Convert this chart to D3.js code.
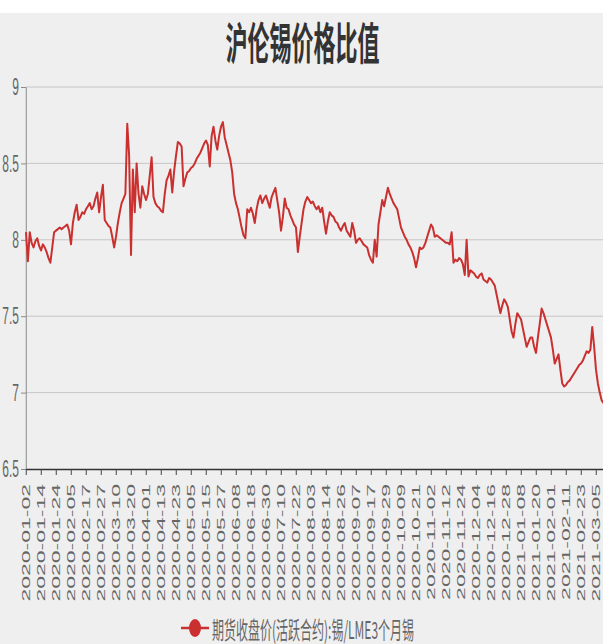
<!DOCTYPE html>
<html><head><meta charset="utf-8">
<script src="https://cdn.jsdelivr.net/npm/d3@7"></script>
<style>html,body{margin:0;padding:0;background:#fff;overflow:hidden}</style>
</head><body>
<svg id="c" width="603" height="644"></svg>
<script>
const title = "沪伦锡价格比值";
const seriesName = "期货收盘价(活跃合约):锡/LME3个月锡";
const yTicks = [6.5, 7, 7.5, 8, 8.5, 9];
const labelEvery = 8;
const tradingDays = [
  ["2020-01", [2,3,6,7,8,9,10,13,14,15,16,17,20,21,22,23,24,27,28,29,30,31]],
  ["2020-02", [3,4,5,6,7,10,11,12,13,14,17,18,19,20,21,24,25,26,27,28]],
  ["2020-03", [2,3,4,5,6,9,10,11,12,13,16,17,18,19,20,23,24,25,26,27,30,31]],
  ["2020-04", [1,2,3,6,7,8,9,10,13,14,15,16,17,20,21,22,23,24,27,28,29,30]],
  ["2020-05", [1,4,5,6,7,8,11,12,13,14,15,18,19,20,21,22,25,26,27,28,29]],
  ["2020-06", [1,2,3,4,5,8,9,10,11,12,15,16,17,18,19,22,23,24,25,26,29,30]],
  ["2020-07", [1,2,3,6,7,8,9,10,13,14,15,16,17,20,21,22,23,24,27,28,29,30,31]],
  ["2020-08", [3,4,5,6,7,11,12,13,14,17,18,19,20,21,24,25,26,27,28,31]],
  ["2020-09", [1,2,3,4,7,8,9,10,11,14,15,16,17,18,21,22,23,24,25,28,29,30]],
  ["2020-10", [1,2,5,6,7,8,9,12,13,14,15,16,19,20,21,22,23,26,27,28,29,30]],
  ["2020-11", [2,3,4,5,6,9,10,11,12,13,16,17,18,19,20,23,24,25,26,27,30]],
  ["2020-12", [1,2,3,4,7,8,9,10,11,14,15,16,17,18,21,22,23,24,25,28,29,30,31]],
  ["2021-01", [4,5,6,7,8,11,12,13,14,15,18,19,20,21,22,25,26,27,28,29]],
  ["2021-02", [1,2,3,4,5,8,9,10,11,12,15,16,17,18,19,22,23,24,25,26]],
  ["2021-03", [1,2,3,4,5,8,9,10,11]]
];
const ratio = [
  8.05,7.86,8.05,7.98,7.95,7.99,8.01,7.96,7.93,7.97,
  7.95,7.92,7.88,7.85,7.95,8.05,8.06,8.07,8.08,8.07,
  8.08,8.09,8.10,8.06,7.97,8.11,8.18,8.23,8.13,8.15,
  8.18,8.17,8.20,8.22,8.24,8.20,8.22,8.27,8.31,8.18,
  8.28,8.36,8.13,8.11,8.09,8.08,8.02,7.95,8.02,8.11,
  8.18,8.24,8.27,8.30,8.76,8.55,7.90,8.46,8.18,8.50,
  8.30,8.21,8.35,8.30,8.26,8.30,8.42,8.54,8.28,8.24,
  8.22,8.21,8.19,8.18,8.30,8.39,8.42,8.46,8.31,8.45,
  8.55,8.64,8.63,8.61,8.35,8.40,8.44,8.45,8.47,8.48,
  8.50,8.53,8.55,8.57,8.60,8.63,8.65,8.62,8.48,8.68,
  8.74,8.65,8.59,8.68,8.74,8.77,8.67,8.62,8.57,8.52,
  8.44,8.30,8.24,8.20,8.14,8.08,8.03,8.01,8.20,8.18,
  8.21,8.17,8.11,8.20,8.26,8.29,8.24,8.27,8.29,8.25,
  8.21,8.28,8.31,8.34,8.26,8.18,8.06,8.15,8.27,8.21,
  8.20,8.16,8.13,8.10,8.08,7.92,8.02,8.11,8.20,8.25,
  8.28,8.26,8.24,8.25,8.22,8.20,8.22,8.18,8.21,8.12,
  8.04,8.12,8.18,8.16,8.15,8.12,8.11,8.08,8.06,8.09,
  8.11,8.06,8.04,8.02,8.11,8.06,7.98,8.00,8.01,7.99,
  7.97,7.96,7.95,7.90,7.87,7.85,8.00,7.89,8.10,8.18,
  8.26,8.22,8.28,8.34,8.30,8.27,8.24,8.22,8.20,8.14,
  8.08,8.05,8.02,8.00,7.97,7.95,7.92,7.88,7.82,7.88,
  7.95,7.94,7.95,7.98,8.02,8.06,8.10,8.08,8.02,8.03,
  8.02,8.01,8.00,7.99,7.98,7.98,7.97,8.05,7.85,7.87,
  7.86,7.88,7.87,7.84,7.77,8.00,7.76,7.80,7.79,7.78,
  7.76,7.75,7.77,7.78,7.74,7.73,7.72,7.75,7.74,7.72,
  7.70,7.64,7.58,7.52,7.57,7.61,7.59,7.56,7.48,7.40,
  7.36,7.45,7.52,7.50,7.48,7.42,7.36,7.30,7.33,7.36,
  7.36,7.30,7.26,7.36,7.45,7.55,7.52,7.48,7.44,7.40,
  7.36,7.28,7.19,7.22,7.25,7.15,7.06,7.04,7.05,7.07,
  7.08,7.10,7.12,7.14,7.16,7.18,7.19,7.21,7.24,7.27,
  7.26,7.28,7.43,7.30,7.15,7.06,7.00,6.95,6.93
];

const dates = tradingDays.flatMap(([m, ds]) => ds.map(d => m + "-" + String(d).padStart(2, "0")));
const data = dates.map((d, i) => ({date: d, value: ratio[i]}));

// design space is horizontally compressed to 603px (matches the squeezed reference)
const DW = 1206, DH = 644;
const svg = d3.select("#c").attr("viewBox", `0 0 ${DW} ${DH}`).attr("preserveAspectRatio", "none");

svg.append("rect").attr("x", 0).attr("y", 13).attr("width", DW).attr("height", DH - 13).attr("fill", "#efefef");

const plotLeft = 52, plotTop = 87, plotBottom = 469;
const x = d3.scalePoint().domain(dates).range([plotLeft, plotLeft + 3.75 * (dates.length - 1)]);
const y = d3.scaleLinear().domain([6.5, 9]).range([plotBottom, plotTop]);
const plotRight = x.range()[1];

// grid lines
svg.append("g").selectAll("line").data(yTicks.filter(t => t !== 6.5)).join("line")
  .attr("x1", plotLeft).attr("x2", plotRight + 10).attr("y1", d => y(d)).attr("y2", d => y(d))
  .attr("stroke", "#c6c6c6").attr("stroke-width", 1).attr("vector-effect", "non-scaling-stroke");

// y axis
const gy = svg.append("g").attr("transform", `translate(${plotLeft},0)`)
  .call(d3.axisLeft(y).tickValues(yTicks).tickFormat(d3.format("~g")).tickSize(10).tickSizeOuter(0).tickPadding(4));
gy.selectAll("path,line").attr("stroke", "#8a8a8a").attr("vector-effect", "non-scaling-stroke");
gy.selectAll("text").attr("fill", "#666").attr("font-size", 24).attr("font-family", "Liberation Sans, Arial, sans-serif");

// x axis
const gx = svg.append("g").attr("transform", `translate(0,${plotBottom})`)
  .call(d3.axisBottom(x).tickValues(dates.filter((d, i) => i % labelEvery === 0)).tickSize(6).tickSizeOuter(0));
gx.select(".domain").attr("stroke", "#333").attr("stroke-width", 1.6).attr("vector-effect", "non-scaling-stroke");
gx.selectAll(".tick line").attr("stroke", "#444").attr("vector-effect", "non-scaling-stroke");
gx.selectAll(".tick text")
  .attr("fill", "#666").attr("font-size", 23).attr("font-family", "Liberation Sans, Arial, sans-serif")
  .attr("text-anchor", "end").attr("dominant-baseline", "central")
  .attr("dy", null).attr("y", 0).attr("x", 0)
  .attr("transform", "translate(0,15) rotate(-90)");

// line
const line = d3.line().x(d => x(d.date)).y(d => y(d.value));
svg.append("path").datum(data).attr("d", line)
  .attr("fill", "none").attr("stroke", "#c9302f").attr("stroke-width", 2)
  .attr("stroke-linejoin", "round").attr("vector-effect", "non-scaling-stroke");

// title
svg.append("text").attr("x", 605).attr("y", 60).attr("text-anchor", "middle")
  .attr("font-family", "Noto Sans CJK SC, sans-serif").attr("font-weight", "bold")
  .attr("font-size", 44).attr("fill", "#333").text(title);

// legend
const lg = svg.append("g").attr("transform", "translate(0,628)");
lg.append("line").attr("x1", 362).attr("x2", 418).attr("y1", 0).attr("y2", 0)
  .attr("stroke", "#c9302f").attr("stroke-width", 2.5).attr("vector-effect", "non-scaling-stroke");
lg.append("ellipse").attr("cx", 390).attr("cy", 0).attr("rx", 12).attr("ry", 9).attr("fill", "#c9302f");
lg.append("text").attr("x", 424).attr("y", 0).attr("dominant-baseline", "central")
  .attr("font-family", "Noto Sans CJK SC, sans-serif").attr("font-size", 24).attr("fill", "#666").text(seriesName);
</script>
</body></html>
